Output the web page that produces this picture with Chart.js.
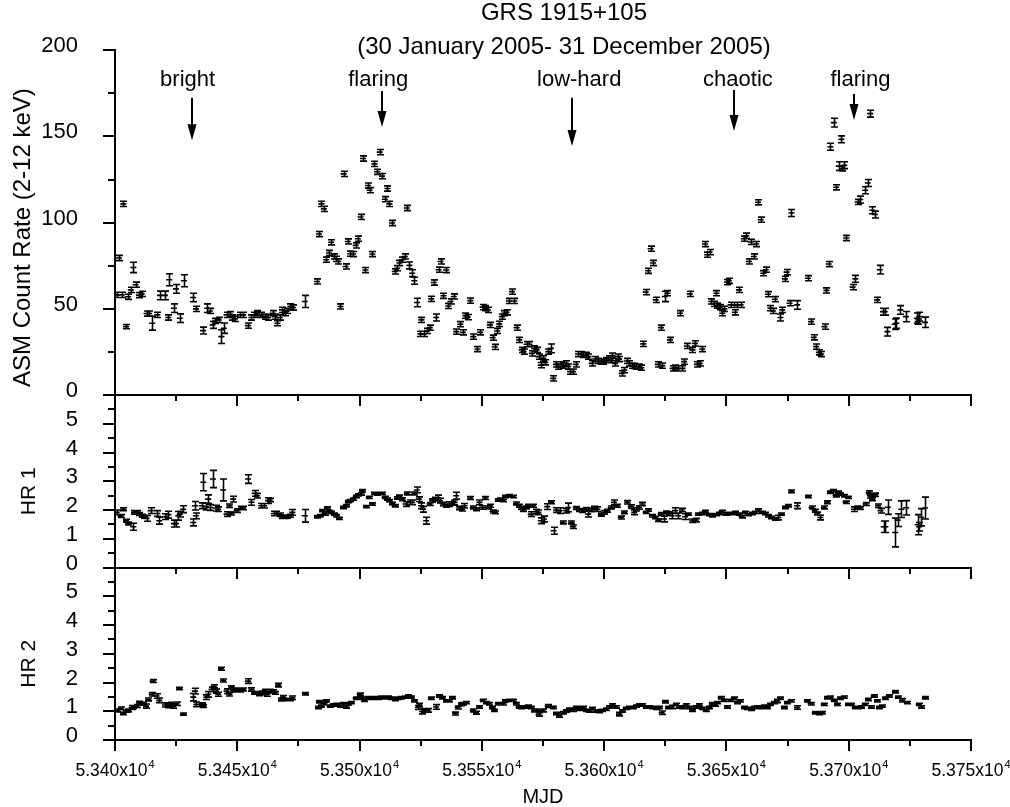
<!DOCTYPE html>
<html>
<head>
<meta charset="utf-8">
<script src="https://cdn.jsdelivr.net/npm/chart.js@4.4.1/dist/chart.umd.min.js"></script>
<style>
html,body{margin:0;padding:0;background:#fff;}
#c{display:block;}
</style>
</head>
<body>
<canvas id="c" width="1010" height="807" style="width:1010px;height:807px"></canvas>
<script>
// ---------------- DATA ----------------
const titleLines = ['GRS 1915+105', '(30 January 2005- 31 December 2005)'];
const xAxisTitle = 'MJD';
const yTitles = ['ASM Count Rate (2-12 keV)', 'HR 1', 'HR 2'];
const xTickValues = [53400, 53450, 53500, 53550, 53600, 53650, 53700, 53750];
const xTickText = ['5.340x10', '5.345x10', '5.350x10', '5.355x10', '5.360x10', '5.365x10', '5.370x10', '5.375x10'];
const xTickExp = '4';

// state annotations (label, label position, arrow in data units of the ASM panel)
const stateLabels = ['bright', 'flaring', 'low-hard', 'chaotic', 'flaring'];
const stateLabelMjd = [53429.7, 53507.6, 53589.8, 53654.7, 53704.8];
const stateLabelRate = [179, 179, 179, 179, 179];
const stateArrowMjd = [53431.4, 53509.1, 53586.8, 53653.3, 53702.3];
const stateArrowFrom = [172.4, 176.3, 172.4, 176.9, 174.6];
const stateArrowTo = [147.8, 155.4, 144.4, 153.1, 159.5];

// ASM count rate (2-12 keV)
const asmMjd = [53400.7,53401.6,53402.7,53403.4,53404.5,53405.4,53406.5,53407.5,53408.4,53409.8,
53410.9,53412.9,53414.0,53415.2,53417.3,53418.4,53420.4,53421.8,53422.2,53424.1,
53424.9,53426.5,53428.2,53432.0,53433.1,53436.0,53437.7,53438.8,53439.9,53440.8,
53442.4,53443.5,53444.5,53445.6,53446.9,53448.0,53449.0,53451.0,53452.4,53454.4,
53455.8,53456.9,53458.1,53459.9,53461.2,53462.6,53464.4,53465.3,53466.4,53467.3,
53468.3,53469.4,53470.3,53471.7,53472.8,53477.6,
53482.6,53483.4,53484.4,53485.4,53486.4,53487.5,53488.4,53489.5,53490.5,53491.3,
53492.2,53493.5,53494.3,53495.2,53496.2,53497.3,53498.4,53499.3,53500.4,53501.4,
53502.4,53503.4,53504.1,53505.2,53506.1,53507.2,53508.2,53509.2,53510.3,53511.4,
53512.2,53513.3,53514.4,53515.4,53516.3,53517.4,53518.5,53519.3,53520.4,53521.5,
53522.4,53523.5,
53524.9,53525.3,53526.3,53527.6,53528.7,53529.3,53530.3,53531.3,53532.3,53533.1,
53534.3,53535.4,53536.3,53537.2,53538.5,53539.5,53541.2,53542.2,53543.3,53544.2,
53545.3,53546.5,53548.2,53549.3,53550.3,53551.4,53552.4,53553.3,53554.4,53555.3,
53556.3,53557.1,53558.2,53559.2,53560.1,53561.1,53562.3,53563.3,53564.2,53565.3,
53566.3,53567.1,53568.3,53569.4,53570.4,53571.4,53572.4,53573.2,53574.1,53575.1,
53575.9,53577.2,53578.2,53579.2,53580.3,53581.2,53582.3,53583.3,53584.3,53585.3,
53586.1,53587.3,53588.4,53589.3,53590.4,53591.5,53592.5,53593.6,53594.9,53596.3,
53597.5,53598.6,53599.6,53600.7,53601.8,53602.9,53603.4,53604.5,53605.5,53606.1,
53607.2,53608.2,53609.2,53610.2,53611.3,53612.2,53613.2,53614.3,53615.2,53616.0,
53617.0,53618.0,53619.0,53620.0,53621.1,53621.9,53623.2,53623.8,53624.8,53625.9,
53626.9,53628.0,53628.9,53630.0,53631.0,53632.0,53632.7,53633.8,53635.0,53636.1,
53637.1,53637.9,
53639.1,53640.1,53641.2,53642.1,53643.1,53643.8,53644.8,53645.9,53646.2,53647.2,
53648.3,53649.2,53650.3,53651.0,53651.7,53653.0,53653.4,53654.4,53655.1,53655.8,
53657.1,53658.1,53659.2,53659.9,53661.2,53662.2,53662.9,53664.0,53665.1,53666.1,
53667.0,53668.0,53669.0,53669.8,53672.1,53672.8,53673.9,53674.6,53675.8,53676.6,
53678.9,53683.3,53684.6,53685.7,53686.7,53687.8,53688.7,53690.1,53690.9,53691.8,
53692.5,53693.9,53694.9,53695.9,53697.0,53697.3,53698.2,53699.0,53701.6,53702.7,
53703.6,53704.7,53706.7,53707.8,53708.8,53709.7,53710.7,53711.6,53712.7,53714.0,
53714.7,53715.8,53718.8,53719.5,53721.1,53723.4,53727.9,53728.2,53728.9,53731.2];
const asmRate = [58.1,79.5,58.1,110.9,39.7,57.0,61.0,74.0,64.0,58.0,
58.7,47.3,47.3,41.7,46.5,57.8,57.8,45.0,66.9,50.4,
61.6,44.6,66.3,56.6,50.0,37.4,50.4,48.8,40.7,43.0,
43.6,33.9,38.8,46.5,46.9,45.0,44.2,46.5,46.5,40.3,
45.0,46.5,47.5,46.5,45.5,45.0,47.5,45.5,41.7,45.0,
49.4,47.5,48.8,51.4,50.8,54.3,
65.9,93.4,110.9,108.0,78.5,82.4,88.6,80.4,79.0,77.5,
51.4,128.3,74.6,89.1,82.0,81.8,86.8,90.7,103.3,137.2,
72.5,121.5,118.8,81.8,134.1,129.5,140.9,127.0,113.6,119.8,
110.9,99.8,71.7,73.6,76.6,78.5,80.4,108.5,75.2,70.7,
66.3,53.7,
35.5,43.6,35.5,37.2,39.1,55.8,65.3,45.0,72.7,77.5,
57.6,72.5,51.7,54.3,57.2,36.8,41.1,36.4,46.1,45.2,
54.8,33.9,26.7,36.4,51.0,50.4,49.4,40.7,33.3,27.9,
37.2,41.3,45.5,47.5,48.0,54.6,60.0,54.6,39.1,32.0,
26.2,25.2,29.5,29.5,24.2,27.1,26.2,22.3,17.4,21.3,
19.0,25.2,27.1,9.7,17.8,16.5,17.8,17.1,18.4,16.5,
13.6,13.6,17.8,23.8,23.8,23.3,23.3,22.3,18.4,20.9,
19.8,19.4,19.4,20.3,21.3,20.3,22.9,18.4,22.3,20.9,
12.6,14.5,19.8,18.4,17.1,16.9,16.5,16.5,15.9,29.7,
59.7,72.1,84.9,76.6,55.2,17.8,39.1,17.1,57.2,59.1,
32.0,15.5,15.9,15.5,47.5,15.5,19.4,28.5,58.7,26.2,
30.0,17.8,
18.4,26.7,87.6,81.4,82.9,54.3,52.9,59.1,51.9,51.0,
47.5,50.0,65.5,66.3,52.3,52.3,48.0,52.3,61.0,52.3,
90.7,92.4,77.5,88.8,80.4,87.6,111.8,101.7,70.7,72.7,
58.5,50.4,48.8,55.6,45.0,49.4,67.4,71.3,53.3,105.6,
52.3,67.8,42.6,33.5,28.1,24.8,23.8,39.7,60.7,76.0,
144.0,158.0,120.5,132.8,148.3,131.5,133.3,91.1,62.6,67.4,
112.0,113.4,118.8,123.0,163.2,107.2,104.7,55.2,72.7,48.4,
48.4,36.8,41.1,41.7,49.4,45.5,44.6,42.6,45.5,42.2];
const asmErr = [1.5,1.5,1.5,1.5,1.2,1.5,1.5,3,1.5,1.5,
1.5,1.5,1.5,4,1.5,2.5,2.5,1.5,3.5,2.5,
2.5,2.5,3.5,2.5,1.5,2,2.5,1.5,2,1.5,
1.5,4,3,1.5,1.5,1.5,1.5,1.5,1.5,1.5,
1.5,1.5,1.5,1.5,1.5,1.5,1.5,1.5,1.5,1.5,
1.5,1.5,1.5,1.5,1.5,3.5,
1.5,1.5,1.5,1.5,1.5,1.5,1.5,1.5,1.5,1.5,
1.5,1.5,1.5,1.5,1.5,1.5,1.5,1.5,1.5,1.5,
1.5,1.5,1.5,1.5,1.5,1.5,1.5,1.5,1.5,1.5,
1.5,1.5,1.5,1.5,1.5,1.5,1.5,1.5,2,2,
2,2.5,
1.5,1.5,1.5,1.5,1.5,1.5,1.5,2,1.5,1.5,
1.5,1.5,1.5,1.5,1.5,1.5,1.5,1.5,1.5,1.5,
1.5,1.5,1.5,1.5,1.5,1.5,1.5,1.5,1.5,1.5,
1.5,1.5,1.5,1.5,1.5,1.5,1.5,1.5,1.5,1.5,
1.5,1.5,1.5,1.5,1.5,1.5,1.5,1.5,1.5,1.5,
1.5,1.5,2.5,1.5,1.5,1.5,1.5,1.5,1.5,1.5,
1.5,1.5,1.5,1.5,1.5,1.5,1.5,1.5,1.5,1.5,
1.5,1.5,1.5,1.5,1.5,1.5,1.5,1.5,1.5,1.5,
1.5,1.5,1.5,1.5,1.5,1.5,1.5,1.5,1.5,1.5,
1.5,1.5,1.5,1.5,1.5,1.5,1.5,1.5,3,1.5,
1.5,1.5,1.5,1.5,1.5,1.5,1.5,1.5,1.5,1.5,
1.5,1.5,
1.5,1.5,1.5,1.5,1.5,1.5,1.5,1.5,1.5,1.5,
1.5,1.5,1.5,1.5,1.5,1.5,1.5,1.5,1.5,1.5,
1.5,1.5,1.5,1.5,1.5,1.5,1.5,1.5,1.5,1.5,
1.5,1.5,1.5,1.5,2,1.5,1.5,1.5,1.5,2,
2.5,1.5,1.5,1.5,1.5,1.5,1.5,1.5,1.5,1.5,
2,2.5,1.5,2.5,2,1.5,2,1.5,1.5,2,
1.5,2,2,2,2,2,2,1.5,2.5,2,
2,2.5,3,3,2.5,3,3,1.5,2.5,3];

// Hardness ratio HR 1
const hr1Mjd = [53400.7,53402.3,53403.4,53404.5,53405.4,53407.5,53407.8,53408.8,53409.9,53410.9,
53412.0,53412.9,53414.6,53417.3,53418.1,53420.4,53421.8,53424.1,53424.9,53425.9,
53426.5,53427.9,53432.0,53432.7,53433.1,53435.4,53436.1,53437.1,53438.1,53438.8,
53440.1,53441.2,53442.2,53444.2,53445.6,53446.8,53447.6,53448.3,53449.7,53451.7,
53452.4,53454.4,53455.8,53457.1,53458.1,53459.9,53461.0,53462.6,53463.3,53464.9,
53466.0,53467.3,53468.3,53469.4,53470.3,53471.4,53472.5,53477.6,53482.6,53483.7,
53484.8,53485.7,53486.7,53487.5,53488.4,53489.4,53490.5,53491.6,53493.2,53494.3,
53495.2,53496.2,53497.3,53498.4,53499.3,53500.4,53501.1,53502.7,53503.8,53505.2,
53506.1,53507.1,53508.2,53509.2,53510.2,53511.3,53512.2,53513.3,53514.3,53515.4,
53516.3,53517.4,53518.8,53519.3,53520.7,53521.5,53522.4,53523.4,53524.2,53525.2,
53525.9,53527.2,53528.6,53529.7,53531.0,53532.0,53532.9,53534.0,53535.4,53536.7,
53537.8,53538.8,53539.5,53540.8,53541.9,53542.9,53545.2,53546.3,53547.6,53549.0,
53550.1,53551.4,53552.4,53553.3,53554.4,53555.4,53556.5,53557.6,53558.5,53559.6,
53561.0,53562.6,53564.0,53565.1,53566.0,53567.0,53568.0,53569.0,53570.0,53571.0,
53572.0,53573.1,53574.1,53575.4,53576.7,53578.3,53579.3,53580.4,53581.8,53583.1,
53584.5,53585.2,53586.6,53587.2,53588.4,53589.7,53591.1,53592.4,53593.5,53594.5,
53595.9,53597.2,53598.6,53600.0,53601.3,53602.7,53604.0,53605.4,53606.8,53608.2,
53609.5,53610.9,53612.3,53612.9,53614.3,53615.6,53617.0,53618.1,53619.5,53620.8,
53622.2,53623.1,53624.5,53625.4,53626.5,53627.6,53629.0,53630.3,53631.7,53633.1,
53634.4,53636.1,53637.4,53638.5,53639.9,53641.2,53642.9,53644.2,53645.6,53646.9,
53648.0,53649.7,53651.0,53652.4,53653.7,53655.1,53656.2,53657.6,53658.9,53660.3,
53661.6,53663.0,53664.4,53665.7,53667.1,53668.4,53669.8,53671.2,53672.5,53673.9,
53675.2,53676.6,53678.9,53683.4,53684.8,53686.1,53687.1,53688.4,53689.8,53691.2,
53692.5,53693.5,53694.6,53695.7,53696.6,53698.0,53698.7,53699.8,53702.1,53703.5,
53704.8,53706.9,53708.2,53708.9,53709.6,53710.9,53712.0,53713.0,53714.3,53715.0,
53716.0,53719.0,53720.0,53721.5,53723.5,53728.2,53728.8,53729.5,53731.2];
const hr1Val = [1.92,1.79,2.03,1.63,1.53,1.42,1.92,1.92,1.86,1.80,
1.77,1.71,1.98,1.88,1.63,1.77,1.84,1.53,1.53,1.80,
1.86,2.03,1.57,2.15,1.80,2.15,2.97,2.12,2.38,2.09,
3.08,2.07,2.03,2.70,1.86,2.15,1.88,2.38,1.98,2.07,
2.07,3.08,2.27,2.58,2.50,2.15,2.15,2.33,2.35,1.88,
1.88,1.84,1.77,1.77,1.77,1.80,1.92,1.80,1.77,1.80,
1.98,1.86,2.07,1.95,1.92,1.86,1.80,1.71,2.09,2.15,
2.30,2.33,2.38,2.47,2.53,2.56,2.67,2.12,2.44,2.21,
2.58,2.56,2.58,2.58,2.44,2.38,2.33,2.23,2.15,2.42,
2.47,2.38,2.21,2.58,2.27,2.27,2.58,2.70,2.38,2.15,
2.03,1.63,2.21,2.33,2.38,2.42,2.33,2.21,2.15,2.21,
2.23,2.27,2.50,2.07,2.03,2.15,2.42,2.09,2.03,2.27,
2.09,2.42,2.09,2.15,1.95,1.92,2.35,2.38,2.33,2.47,
2.50,2.47,2.23,2.15,2.07,2.00,2.09,2.15,1.86,2.15,
1.95,1.92,1.63,1.69,2.12,2.27,1.28,2.00,1.98,1.57,
1.98,2.09,1.57,1.42,2.07,2.00,1.98,2.03,1.86,2.00,
2.07,2.03,1.84,1.92,1.98,2.09,2.27,2.15,1.74,1.92,
2.27,2.12,1.92,2.03,2.09,2.21,1.92,2.00,1.80,1.74,
1.65,1.86,1.69,1.92,1.88,1.80,1.98,1.80,2.00,1.77,
1.86,1.63,1.65,1.86,1.88,1.95,1.84,1.80,1.84,1.88,
1.95,1.86,1.88,1.88,1.92,1.86,1.77,1.92,1.84,1.88,
1.92,2.00,1.92,1.88,1.80,1.74,1.69,1.74,1.86,2.09,
2.15,2.65,2.15,2.47,2.09,1.98,1.88,1.74,2.09,2.27,
2.62,2.67,2.50,2.62,2.56,2.50,2.27,2.44,2.03,2.09,
2.07,2.21,2.62,2.47,2.38,2.53,2.15,1.98,1.42,1.42,
2.10,1.22,1.65,2.03,2.08,1.49,1.42,1.75,2.07];
const hr1Err = [0.08,0.05,0.05,0.05,0.05,0.12,0.06,0.06,0.05,0.05,
0.05,0.1,0.1,0.1,0.12,0.1,0.12,0.12,0.12,0.15,
0.1,0.12,0.12,0.15,0.1,0.1,0.3,0.12,0.15,0.1,
0.3,0.1,0.08,0.38,0.08,0.06,0.05,0.1,0.06,0.06,
0.06,0.15,0.1,0.1,0.08,0.08,0.08,0.1,0.06,0.08,
0.08,0.06,0.06,0.06,0.05,0.05,0.1,0.22,0.04,0.04,
0.04,0.04,0.04,0.04,0.04,0.04,0.04,0.04,0.04,0.04,
0.04,0.04,0.04,0.04,0.04,0.04,0.04,0.04,0.04,0.04,
0.04,0.04,0.04,0.04,0.04,0.04,0.04,0.04,0.04,0.04,
0.05,0.05,0.08,0.05,0.08,0.08,0.05,0.1,0.08,0.1,
0.1,0.12,0.05,0.06,0.06,0.1,0.08,0.06,0.05,0.08,
0.06,0.08,0.12,0.06,0.06,0.08,0.05,0.05,0.05,0.08,
0.06,0.05,0.05,0.05,0.05,0.05,0.04,0.04,0.04,0.04,
0.04,0.04,0.05,0.05,0.05,0.05,0.05,0.05,0.08,0.05,
0.08,0.08,0.1,0.1,0.1,0.05,0.12,0.08,0.1,0.05,
0.08,0.15,0.05,0.06,0.05,0.05,0.06,0.06,0.1,0.06,
0.06,0.08,0.05,0.06,0.05,0.05,0.08,0.05,0.05,0.05,
0.06,0.06,0.08,0.06,0.06,0.06,0.04,0.04,0.04,0.04,
0.05,0.05,0.1,0.05,0.06,0.1,0.1,0.1,0.06,0.1,
0.04,0.06,0.06,0.04,0.04,0.04,0.04,0.04,0.04,0.04,
0.04,0.04,0.04,0.04,0.04,0.04,0.04,0.04,0.04,0.04,
0.04,0.04,0.04,0.04,0.04,0.04,0.04,0.08,0.04,0.04,
0.04,0.05,0.1,0.04,0.05,0.05,0.05,0.08,0.05,0.05,
0.04,0.04,0.04,0.04,0.04,0.04,0.04,0.04,0.08,0.05,
0.05,0.05,0.05,0.05,0.05,0.06,0.06,0.08,0.2,0.2,
0.25,0.5,0.22,0.29,0.25,0.35,0.15,0.3,0.38];

// Hardness ratio HR 2
const hr2Mjd = [53400.7,53402.3,53403.4,53404.5,53405.4,53406.8,53407.5,53408.8,53409.9,53411.3,
53412.7,53413.6,53415.0,53415.4,53417.0,53418.1,53420.4,53421.8,53422.7,53423.8,
53425.2,53426.3,53427.9,53432.0,53432.7,53433.3,53435.4,53436.1,53437.4,53438.1,
53439.5,53440.4,53441.2,53442.2,53443.3,53444.2,53445.6,53446.7,53447.6,53448.3,
53449.7,53451.0,53452.4,53454.4,53455.8,53456.9,53457.8,53458.9,53460.3,53461.2,
53462.3,53463.3,53464.6,53465.3,53466.7,53468.0,53468.7,53470.0,53471.4,53472.5,
53477.6,53483.0,53483.4,53484.4,53485.3,53486.4,53487.8,53489.1,53490.5,53491.8,
53493.2,53494.3,53495.2,53496.6,53498.4,53500.0,53500.7,53502.0,53503.4,53504.8,
53506.1,53507.5,53508.8,53510.2,53511.6,53512.9,53514.3,53515.6,53517.0,53518.4,
53519.7,53521.1,53522.4,53523.8,53524.5,53525.6,53526.5,53527.9,53529.3,53531.3,
53532.4,53533.7,53535.4,53536.5,53537.8,53539.2,53540.1,53541.5,53542.4,53543.5,
53546.3,53547.6,53549.0,53550.3,53551.7,53552.8,53554.1,53555.1,53556.5,53558.5,
53559.6,53560.9,53562.6,53563.9,53565.0,53566.0,53567.3,53568.7,53570.1,53571.4,
53572.4,53573.2,53574.8,53576.9,53578.9,53580.3,53581.6,53583.0,53584.4,53585.7,
53587.1,53588.4,53589.8,53591.2,53592.5,53593.9,53595.2,53596.6,53598.0,53599.3,
53600.7,53602.0,53603.4,53604.8,53606.1,53607.5,53608.8,53610.2,53611.6,53612.9,
53614.3,53615.6,53617.0,53618.4,53619.7,53621.1,53622.4,53623.5,53624.9,53626.3,
53627.6,53629.3,53630.6,53632.0,53633.3,53634.7,53636.1,53637.4,53638.8,53640.1,
53641.5,53642.9,53644.0,53645.3,53646.3,53647.6,53649.0,53650.3,53651.7,53653.1,
53654.4,53655.4,53657.1,53658.5,53659.9,53661.2,53662.6,53663.9,53665.3,53666.7,
53668.0,53669.4,53670.7,53672.1,53673.5,53674.8,53676.2,53678.9,53683.0,53684.4,
53686.1,53687.8,53689.1,53689.8,53691.2,53692.5,53693.9,53695.2,53696.6,53698.0,
53699.7,53701.1,53702.4,53703.8,53705.2,53706.5,53707.9,53709.3,53710.2,53711.6,
53712.5,53713.6,53715.0,53716.3,53719.0,53720.1,53721.8,53723.8,53728.6,53729.7,
53731.3];
const hr2Val = [1.03,1.10,0.92,1.01,1.03,1.13,1.15,1.18,1.30,1.26,
1.18,1.41,1.59,2.05,1.53,1.38,1.22,1.18,1.26,1.18,
1.26,1.79,0.90,1.49,1.70,1.24,1.24,1.18,1.49,1.59,
1.76,1.87,1.70,1.59,2.48,2.07,1.70,1.59,1.84,1.72,
1.76,1.72,1.76,2.05,1.76,1.64,1.64,1.59,1.64,1.70,
1.59,1.70,1.70,1.64,1.91,1.41,1.49,1.41,1.41,1.47,
1.61,1.13,1.33,1.18,1.26,1.36,1.18,1.22,1.24,1.18,
1.26,1.15,1.26,1.30,1.45,1.59,1.45,1.38,1.47,1.45,
1.47,1.45,1.49,1.47,1.49,1.45,1.41,1.45,1.47,1.49,
1.53,1.49,1.36,1.13,1.22,0.99,1.03,1.03,1.45,1.15,
1.53,1.47,1.36,1.36,1.47,0.92,1.13,1.24,1.26,1.30,
1.03,0.95,1.15,1.38,1.30,1.26,1.13,1.03,1.26,1.26,
1.36,1.38,1.38,1.26,1.15,1.13,1.15,1.18,1.13,1.03,
1.03,0.89,1.03,1.18,1.13,0.92,0.84,0.95,1.01,1.07,
1.03,1.13,1.07,1.13,1.03,1.01,1.10,1.01,0.99,1.03,
1.07,1.15,1.22,1.15,0.90,1.01,1.10,1.13,1.13,1.18,
1.22,1.22,1.15,1.15,1.13,1.10,1.13,0.95,1.33,1.13,
1.15,1.24,1.15,1.13,1.22,1.13,1.03,1.15,1.22,1.10,
1.03,1.13,1.26,1.22,1.30,1.47,1.38,1.15,1.38,1.45,
1.30,1.36,1.13,1.10,1.07,1.13,1.15,1.13,1.18,1.13,
1.24,1.30,1.36,1.45,1.13,1.30,1.36,1.13,1.36,1.26,
0.95,0.92,0.95,1.24,1.47,1.49,1.38,1.24,1.45,1.49,
1.24,1.24,1.13,1.13,1.15,1.24,1.41,1.15,1.53,1.36,
1.13,1.18,1.45,1.53,1.68,1.49,1.38,1.30,1.24,1.15,
1.47];
const hr2Err = [0.05,0.05,0.04,0.04,0.05,0.07,0.05,0.05,0.05,0.05,
0.07,0.05,0.06,0.05,0.08,0.08,0.07,0.06,0.05,0.07,
0.06,0.04,0.04,0.13,0.1,0.08,0.05,0.05,0.08,0.1,
0.08,0.05,0.07,0.07,0.05,0.05,0.08,0.06,0.05,0.05,
0.05,0.05,0.05,0.08,0.06,0.05,0.05,0.05,0.06,0.06,
0.07,0.06,0.05,0.05,0.06,0.05,0.06,0.04,0.04,0.06,
0.04,0.04,0.04,0.04,0.04,0.04,0.04,0.04,0.04,0.04,
0.04,0.04,0.04,0.04,0.04,0.04,0.04,0.04,0.04,0.04,
0.04,0.04,0.04,0.04,0.04,0.04,0.04,0.04,0.04,0.04,
0.04,0.04,0.04,0.07,0.06,0.08,0.06,0.06,0.04,0.08,
0.04,0.04,0.04,0.04,0.04,0.05,0.05,0.05,0.04,0.04,
0.05,0.05,0.04,0.04,0.04,0.04,0.04,0.04,0.04,0.04,
0.04,0.04,0.04,0.04,0.04,0.04,0.04,0.04,0.04,0.05,
0.05,0.06,0.05,0.05,0.04,0.04,0.05,0.04,0.04,0.04,
0.04,0.04,0.04,0.04,0.04,0.04,0.04,0.04,0.04,0.04,
0.04,0.04,0.04,0.04,0.06,0.04,0.04,0.04,0.04,0.04,
0.04,0.04,0.04,0.04,0.04,0.04,0.04,0.06,0.04,0.04,
0.06,0.04,0.04,0.04,0.04,0.04,0.04,0.04,0.04,0.04,
0.04,0.04,0.04,0.04,0.04,0.04,0.04,0.04,0.04,0.04,
0.04,0.04,0.04,0.04,0.04,0.04,0.04,0.04,0.04,0.04,
0.04,0.04,0.06,0.04,0.04,0.04,0.04,0.06,0.04,0.04,
0.04,0.04,0.04,0.04,0.04,0.04,0.04,0.04,0.04,0.04,
0.04,0.04,0.04,0.04,0.04,0.04,0.04,0.04,0.04,0.04,
0.04,0.04,0.04,0.04,0.04,0.04,0.06,0.04,0.04,0.04,
0.04];

// ---------------- STYLE ----------------
const FONT = '"Liberation Sans", Arial, Helvetica, sans-serif';
const INK = '#000';

function toPoints(xs, ys, es) {
  return xs.map((x, i) => ({x: x, y: ys[i], e: es[i]}));
}

const pointStyle = {
  showLine: false,
  pointStyle: 'line',
  pointRadius: 3,
  pointHoverRadius: 3,
  borderColor: INK,
  backgroundColor: INK,
  borderWidth: 1.6
};

// error bars drawn from the data via the chart scales
const errorBarPlugin = {
  id: 'errorBars',
  afterDatasetsDraw(chart) {
    const ctx = chart.ctx;
    const xs = chart.scales.x;
    ctx.save();
    ctx.strokeStyle = INK;
    ctx.lineWidth = 1.6;
    chart.data.datasets.forEach(ds => {
      const ys = chart.scales[ds.yAxisID];
      ctx.beginPath();
      ds.data.forEach(p => {
        const x = Math.round(xs.getPixelForValue(p.x)) + 0.5;
        const yt = ys.getPixelForValue(p.y + p.e);
        const yb = ys.getPixelForValue(p.y - p.e);
        ctx.moveTo(x, yt); ctx.lineTo(x, yb);
        ctx.moveTo(x - 3.5, yt); ctx.lineTo(x + 3.5, yt);
        ctx.moveTo(x - 3.5, yb); ctx.lineTo(x + 3.5, yb);
      });
      ctx.stroke();
    });
    ctx.restore();
  }
};

const panelSteps = {yA: {minor: 25, major: 50}, yB: {minor: 0.5, major: 1}, yC: {minor: 0.5, major: 1}};

const decorPlugin = {
  id: 'decor',
  beforeDraw(chart) {
    const ctx = chart.ctx;
    ctx.save();
    ctx.fillStyle = '#fff';
    ctx.fillRect(0, 0, chart.width, chart.height);
    ctx.restore();
  },
  afterDraw(chart) {
    const ctx = chart.ctx;
    const ca = chart.chartArea;
    const xs = chart.scales.x;
    const yA = chart.scales.yA;
    ctx.save();
    ctx.strokeStyle = INK;
    ctx.fillStyle = INK;
    ctx.lineWidth = 2;

    // y tick marks (outward)
    ['yA', 'yB', 'yC'].forEach(id => {
      const s = chart.scales[id];
      const st = panelSteps[id];
      for (let v = s.min; v <= s.max + 1e-9; v += st.minor) {
        const y = Math.round(s.getPixelForValue(v));
        const isMajor = Math.abs(v / st.major - Math.round(v / st.major)) < 1e-6;
        const len = isMajor ? 12 : 7;
        ctx.beginPath();
        ctx.moveTo(ca.left + 1, y);
        ctx.lineTo(ca.left - len, y);
        ctx.stroke();
      }
    });

    // horizontal axis line + downward ticks at bottom of each panel
    ['yA', 'yB', 'yC'].forEach(id => {
      const s = chart.scales[id];
      const yb = Math.round(s.getPixelForValue(s.min));
      ctx.beginPath();
      ctx.moveTo(ca.left - 1, yb);
      ctx.lineTo(ca.right + 1, yb);
      ctx.stroke();
      for (let v = xs.min; v <= xs.max + 1e-9; v += 25) {
        const x = Math.round(xs.getPixelForValue(v));
        const len = (v % 50 === 0) ? 11 : 6;
        ctx.beginPath();
        ctx.moveTo(x, yb);
        ctx.lineTo(x, yb + len);
        ctx.stroke();
      }
    });

    // x tick labels with superscript exponent
    const yBottom = chart.scales.yC.getPixelForValue(0);
    xTickValues.forEach((v, i) => {
      const x = xs.getPixelForValue(v);
      ctx.font = '17.5px ' + FONT;
      const w1 = ctx.measureText(xTickText[i]).width;
      ctx.font = '11px ' + FONT;
      const w2 = ctx.measureText(xTickExp).width;
      const start = x - (w1 + 1 + w2) / 2;
      ctx.textAlign = 'left';
      ctx.textBaseline = 'alphabetic';
      ctx.font = '17.5px ' + FONT;
      ctx.fillText(xTickText[i], start, yBottom + 36);
      ctx.font = '11px ' + FONT;
      ctx.fillText(xTickExp, start + w1 + 1, yBottom + 28);
    });

    // x axis title
    ctx.font = '20px ' + FONT;
    ctx.textAlign = 'center';
    ctx.textBaseline = 'alphabetic';
    ctx.fillText(xAxisTitle, (ca.left + ca.right) / 2, yBottom + 63);

    // y axis titles (rotated)
    const yTitlePos = [
      {x: 30, y: (yA.top + yA.bottom) / 2 + 15, size: 24},
      {x: 35, y: (chart.scales.yB.top + chart.scales.yB.bottom) / 2 + 10, size: 21},
      {x: 35, y: (chart.scales.yC.top + chart.scales.yC.bottom) / 2 + 10, size: 21}
    ];
    yTitles.forEach((t, i) => {
      const p = yTitlePos[i];
      ctx.save();
      ctx.translate(p.x, p.y);
      ctx.rotate(-Math.PI / 2);
      ctx.font = p.size + 'px ' + FONT;
      ctx.textAlign = 'center';
      ctx.textBaseline = 'alphabetic';
      ctx.fillText(t, 0, 0);
      ctx.restore();
    });

    // chart title
    ctx.font = '24px ' + FONT;
    ctx.textAlign = 'center';
    ctx.textBaseline = 'alphabetic';
    const tx = 564;
    ctx.fillText(titleLines[0], tx, 20);
    ctx.fillText(titleLines[1], tx, 54);

    // state annotations with arrows
    stateLabels.forEach((lab, i) => {
      ctx.font = '22px ' + FONT;
      ctx.textAlign = 'center';
      ctx.textBaseline = 'alphabetic';
      ctx.fillText(lab, xs.getPixelForValue(stateLabelMjd[i]), yA.getPixelForValue(stateLabelRate[i]));
      const ax = Math.round(xs.getPixelForValue(stateArrowMjd[i]));
      const y0 = yA.getPixelForValue(stateArrowFrom[i]);
      const y1 = yA.getPixelForValue(stateArrowTo[i]);
      const head = 16;
      ctx.lineWidth = 2;
      ctx.beginPath();
      ctx.moveTo(ax, y0);
      ctx.lineTo(ax, y1 - head + 2);
      ctx.stroke();
      ctx.beginPath();
      ctx.moveTo(ax - 4.5, y1 - head);
      ctx.lineTo(ax + 4.5, y1 - head);
      ctx.lineTo(ax, y1);
      ctx.closePath();
      ctx.fill();
    });
    ctx.restore();
  }
};

const tickFont = {family: FONT, size: 22};
function yAxis(weight, stackWeight, min, max, step, hideTop) {
  return {
    type: 'linear',
    position: 'left',
    stack: 'panels',
    stackWeight: stackWeight,
    weight: weight,
    min: min,
    max: max,
    afterFit(scale) { scale.width = 115; },
    grid: {display: false, drawTicks: false},
    border: {display: true, color: INK, width: 2},
    ticks: {
      stepSize: step,
      autoSkip: false,
      padding: 37,
      labelOffset: -4,
      color: INK,
      font: tickFont,
      callback: v => (hideTop && v === max) ? '' : String(v)
    }
  };
}

new Chart(document.getElementById('c'), {
  type: 'scatter',
  data: {
    datasets: [
      Object.assign({label: 'ASM', yAxisID: 'yA', data: toPoints(asmMjd, asmRate, asmErr)}, pointStyle),
      Object.assign({label: 'HR 1', yAxisID: 'yB', data: toPoints(hr1Mjd, hr1Val, hr1Err)}, pointStyle),
      Object.assign({label: 'HR 2', yAxisID: 'yC', data: toPoints(hr2Mjd, hr2Val, hr2Err)}, pointStyle)
    ]
  },
  options: {
    responsive: false,
    animation: false,
    devicePixelRatio: 1,
    layout: {padding: {left: 0, right: 39, top: 49, bottom: 67}},
    plugins: {legend: {display: false}, tooltip: {enabled: false}, title: {display: false}},
    scales: {
      x: {
        type: 'linear', position: 'bottom', min: 53400, max: 53750,
        ticks: {display: false},
        grid: {display: false, drawTicks: false},
        border: {display: false}
      },
      yA: yAxis(3, 2, 0, 200, 50, false),
      yB: yAxis(2, 1, 0, 6, 1, true),
      yC: yAxis(1, 1, 0, 6, 1, true)
    }
  },
  plugins: [errorBarPlugin, decorPlugin]
});
</script>
</body>
</html>
